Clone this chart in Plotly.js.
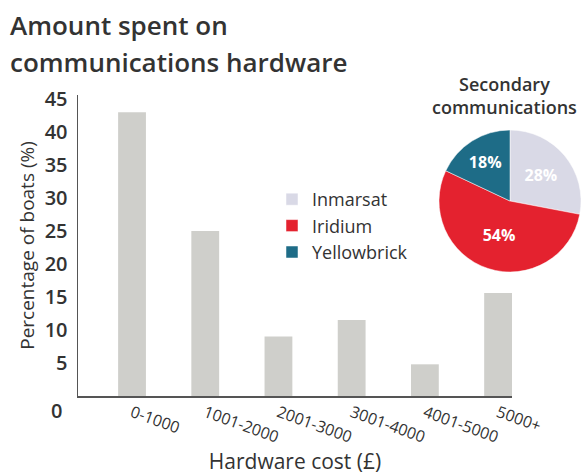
<!DOCTYPE html>
<html><head><meta charset="utf-8">
<script src="https://cdn.plot.ly/plotly-3.0.1.min.js"></script>
<style>html,body{margin:0;padding:0;background:#fff}#c{width:581px;height:475px}</style>
</head><body><div id="c"></div>
<script>
const costBands = ["0-1000","1001-2000","2001-3000","3001-4000","4001-5000","5000+"];
const boatPct = [43, 25, 9, 11.5, 4.8, 15.6];
const yTicks = [5,10,15,20,25,30,35,40,45];
const systems = ["Inmarsat","Iridium","Yellowbrick"];
const systemShare = [28, 54, 18];
const systemColors = ["#d9d9e6","#e4222f","#1e6c87"];

const FONT = "Open Sans, Noto Sans, sans-serif";
const TXT = "#333333";
const PW = 503, PH = 301, ML = 78, MT = 95;
const px = v => (v - ML) / PW;          // page x -> paper x
const py = v => (MT + PH - v) / PH;     // page y -> paper y

const bars = {
  type: "bar", x: costBands, y: boatPct, width: 0.38,
  marker: {color: "#cfcfcb"}, showlegend: false, hoverinfo: "skip",
  xaxis: "x", yaxis: "y"
};
const pie = {
  type: "pie", labels: systems, values: systemShare, sort: false,
  direction: "clockwise", rotation: 0,
  marker: {colors: systemColors, line: {color: "#ffffff", width: 0.5}},
  textinfo: "percent", textposition: "inside",
  insidetextfont: {family: FONT, size: 16, color: "#ffffff", weight: 700},
  texttemplate: "%{percent:.0%}",
  domain: {x: [px(439), 1.0], y: [py(273), py(129)]},
  hoverinfo: "skip"
};

const layout = {
  width: 581, height: 475,
  margin: {l: ML, r: 0, t: MT, b: 475 - MT - PH},
  paper_bgcolor: "#ffffff", plot_bgcolor: "rgba(0,0,0,0)",
  font: {family: FONT, color: TXT},
  xaxis: {
    domain: [0, px(512)], type: "category", range: [-0.738, 5.19],
    showline: true, linecolor: "#555", linewidth: 1.5, ticks: "",
    tickangle: 20, tickfont: {size: 16, color: TXT},
    showgrid: false, zeroline: false, fixedrange: true,
    title: {text: "Hardware cost (£)", font: {size: 21, color: TXT}, standoff: 2}
  },
  yaxis: {
    range: [0, 45.6], tickvals: yTicks, ticktext: yTicks.map(String),
    showline: true, linecolor: "#555", linewidth: 1.5, ticks: "",
    ticklabelstandoff: 5,
    tickfont: {size: 20, color: TXT, weight: 600},
    showgrid: false, zeroline: false, fixedrange: true,
    title: {text: "Percentage of boats (%)", font: {size: 19, color: TXT}, standoff: 5}
  },
  legend: {
    x: px(272), y: py(226), xanchor: "left", yanchor: "middle",
    font: {size: 18, color: TXT}, bgcolor: "rgba(0,0,0,0)",
    tracegroupgap: 0, itemwidth: 30
  },
  annotations: [
    {text: "Amount spent on", xref: "paper", yref: "paper", x: px(8), y: 1.0,
     xanchor: "left", yanchor: "middle", showarrow: false,
     font: {size: 26, color: TXT, weight: 600}, yshift: MT - 25},
    {text: "communications hardware", xref: "paper", yref: "paper", x: px(8), y: 1.0,
     xanchor: "left", yanchor: "middle", showarrow: false,
     font: {size: 26, color: TXT, weight: 600}, yshift: MT - 62},
    {text: "Secondary<br>communications", xref: "paper", yref: "paper", x: px(504), y: py(95),
     xanchor: "center", yanchor: "middle", showarrow: false, align: "center",
     font: {size: 18, color: TXT, weight: 600}},
    {text: "0", xref: "paper", yref: "paper", x: px(64), y: py(410), xanchor: "right", yanchor: "middle",
     showarrow: false, font: {size: 20, color: TXT, weight: 600}}
  ]
};

Plotly.newPlot("c", [bars, pie], layout, {staticPlot: true});
</script></body></html>
